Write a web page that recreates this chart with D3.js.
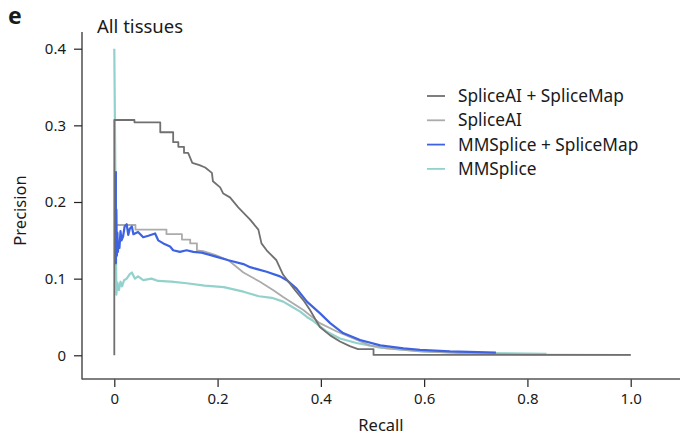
<!DOCTYPE html>
<html>
<head>
<meta charset="utf-8">
<script src="https://cdn.jsdelivr.net/npm/d3@7"></script>
<style>
  body { margin: 0; background: #fff; }
  svg text { font-family: "Noto Sans", sans-serif; fill: #1a1a1a; }
</style>
</head>
<body>
<script>
// ================= Data ======================
const seriesNames = ["SpliceAI + SpliceMap", "SpliceAI", "MMSplice + SpliceMap", "MMSplice"];

const spliceMapAIRecall = [0, 0, 0.039, 0.039, 0.089, 0.089, 0.114, 0.114, 0.124, 0.124, 0.135, 0.135, 0.143, 0.151, 0.165, 0.176, 0.189, 0.191, 0.205, 0.211, 0.224, 0.24, 0.263, 0.279, 0.285, 0.295, 0.314, 0.327, 0.35, 0.366, 0.379, 0.398, 0.418, 0.437, 0.456, 0.472, 0.502, 0.502, 1.0];
const spliceMapAIPrec   = [0, 0.307, 0.307, 0.304, 0.304, 0.291, 0.291, 0.278, 0.278, 0.272, 0.272, 0.264, 0.264, 0.251, 0.248, 0.245, 0.238, 0.227, 0.219, 0.211, 0.206, 0.193, 0.177, 0.164, 0.146, 0.137, 0.124, 0.105, 0.085, 0.072, 0.059, 0.037, 0.026, 0.018, 0.012, 0.008, 0.008, 0.0005, 0.0005];

const spliceAIRecall = [0, 0.041, 0.041, 0.101, 0.101, 0.131, 0.131, 0.147, 0.147, 0.16, 0.16, 0.172, 0.195, 0.221, 0.25, 0.282, 0.308, 0.327, 0.366, 0.398, 0.431, 0.463, 0.495, 0.527, 0.592, 0.67, 0.8, 1.0];
const spliceAIPrec   = [0.17, 0.17, 0.164, 0.164, 0.158, 0.158, 0.151, 0.151, 0.146, 0.146, 0.137, 0.136, 0.131, 0.124, 0.108, 0.096, 0.085, 0.076, 0.059, 0.042, 0.031, 0.022, 0.013, 0.009, 0.005, 0.003, 0.001, 0.0005];

const mmMapRecall = [0.003, 0.003, 0.004, 0.005, 0.006, 0.007, 0.008, 0.010, 0.012, 0.014, 0.017, 0.020, 0.024, 0.027, 0.030, 0.034, 0.037, 0.040, 0.046, 0.056, 0.066, 0.079, 0.085, 0.095, 0.108, 0.114, 0.127, 0.14, 0.153, 0.169, 0.195, 0.221, 0.25, 0.263, 0.295, 0.321, 0.334, 0.353, 0.373, 0.398, 0.418, 0.443, 0.476, 0.515, 0.56, 0.592, 0.65, 0.739];
const mmMapPrec   = [0.24, 0.12, 0.19, 0.13, 0.16, 0.135, 0.146, 0.14, 0.162, 0.15, 0.155, 0.168, 0.171, 0.157, 0.165, 0.168, 0.158, 0.159, 0.161, 0.154, 0.156, 0.159, 0.15, 0.146, 0.142, 0.137, 0.135, 0.137, 0.135, 0.134, 0.129, 0.124, 0.119, 0.115, 0.109, 0.103, 0.098, 0.087, 0.07, 0.055, 0.042, 0.029, 0.02, 0.013, 0.009, 0.007, 0.005, 0.0035];

const mmRecall = [0, 0.004, 0.006, 0.009, 0.012, 0.015, 0.019, 0.024, 0.03, 0.034, 0.04, 0.046, 0.056, 0.072, 0.085, 0.11, 0.14, 0.175, 0.212, 0.25, 0.28, 0.305, 0.327, 0.34, 0.36, 0.373, 0.385, 0.398, 0.411, 0.437, 0.469, 0.515, 0.6, 0.7, 0.837];
const mmPrec   = [0.4, 0.079, 0.095, 0.085, 0.096, 0.09, 0.098, 0.1, 0.106, 0.108, 0.1, 0.103, 0.098, 0.1, 0.097, 0.096, 0.094, 0.091, 0.089, 0.083, 0.077, 0.075, 0.07, 0.065, 0.057, 0.05, 0.045, 0.038, 0.031, 0.022, 0.016, 0.01, 0.005, 0.003, 0.002];

const xTicks = [0, 0.2, 0.4, 0.6, 0.8, 1.0];
const xTickLabels = ["0", "0.2", "0.4", "0.6", "0.8", "1.0"];
const yTicks = [0, 0.1, 0.2, 0.3, 0.4];
const yTickLabels = ["0", "0.1", "0.2", "0.3", "0.4"];

// ================== LAYOUT ===========================
const width = 680, height = 435;
const axisLeft = 82, axisBottom = 379, axisTop = 32, axisRight = 680;

const svg = d3.select("body").append("svg")
    .attr("width", width)
    .attr("height", height);

const xScale = d3.scaleLinear().domain([0, 1]).range([114.3, 630.7]);
const yScale = d3.scaleLinear().domain([0, 0.4]).range([355.3, 48.7]);

// ===================== AXES =======================
const xAxis = d3.axisBottom(xScale).tickValues(xTicks)
    .tickFormat((d, i) => xTickLabels[i]).tickSize(8).tickPadding(6).tickSizeOuter(0);
const gx = svg.append("g").attr("transform", `translate(0, ${axisBottom})`).call(xAxis);
gx.select(".domain").remove();

const yAxis = d3.axisLeft(yScale).tickValues(yTicks)
    .tickFormat((d, i) => yTickLabels[i]).tickSize(8).tickPadding(8).tickSizeOuter(0);
const gy = svg.append("g").attr("transform", `translate(${axisLeft}, 0)`).call(yAxis);
gy.select(".domain").remove();

[gx, gy].forEach(g => {
  g.selectAll(".tick line").attr("stroke", "#222").attr("stroke-width", 1.2);
  g.selectAll(".tick text").style("font-size", "15px").attr("fill", "#1a1a1a");
});

svg.append("line").attr("x1", axisLeft).attr("x2", axisLeft)
   .attr("y1", axisTop).attr("y2", axisBottom + 0.6)
   .attr("stroke", "#222").attr("stroke-width", 1.2);
svg.append("line").attr("x1", axisLeft).attr("x2", axisRight)
   .attr("y1", axisBottom).attr("y2", axisBottom)
   .attr("stroke", "#555").attr("stroke-width", 1.5);

// ==================== Lines ===========================
const line = d3.line().x(d => xScale(d[0])).y(d => yScale(d[1]));
const zip = (a, b) => a.map((v, i) => [v, b[i]]);

const series = [
  { name: seriesNames[3], data: zip(mmRecall, mmPrec), color: "#93d1cc", w: 2.2 },
  { name: seriesNames[1], data: zip(spliceAIRecall, spliceAIPrec), color: "#ababab", w: 1.8 },
  { name: seriesNames[2], data: zip(mmMapRecall, mmMapPrec), color: "#3d63e3", w: 2.2 },
  { name: seriesNames[0], data: zip(spliceMapAIRecall, spliceMapAIPrec), color: "#707070", w: 1.8 }
];

series.forEach(s => {
  svg.append("path")
     .attr("fill", "none")
     .attr("stroke", s.color)
     .attr("stroke-width", s.w)
     .attr("stroke-linejoin", "round")
     .attr("d", line(s.data));
});

// ==================== Legend ===========================
const legendColors = ["#707070", "#ababab", "#3d63e3", "#93d1cc"];
const legend = svg.append("g");
seriesNames.forEach((n, i) => {
  const yy = 96 + i * 24.3;
  legend.append("line").attr("x1", 427).attr("x2", 445)
        .attr("y1", yy).attr("y2", yy)
        .attr("stroke", legendColors[i]).attr("stroke-width", 1.8);
  legend.append("text").attr("x", 458).attr("y", yy).attr("dy", "0.35em")
        .style("font-size", "17.3px").text(n);
});

// ==================== Labels ===========================
svg.append("text").attr("x", 8).attr("y", 24)
   .style("font-size", "23px").style("font-weight", "bold").text("e");
svg.append("text").attr("x", 97).attr("y", 33)
   .style("font-size", "18.5px").text("All tissues");
svg.append("text").attr("x", (axisLeft + axisRight) / 2).attr("y", 431)
   .attr("text-anchor", "middle").style("font-size", "16.5px").text("Recall");
svg.append("text").attr("transform", `translate(26, ${(axisTop + axisBottom) / 2 + 5}) rotate(-90)`)
   .attr("text-anchor", "middle").style("font-size", "16.5px").text("Precision");
</script>
</body>
</html>
